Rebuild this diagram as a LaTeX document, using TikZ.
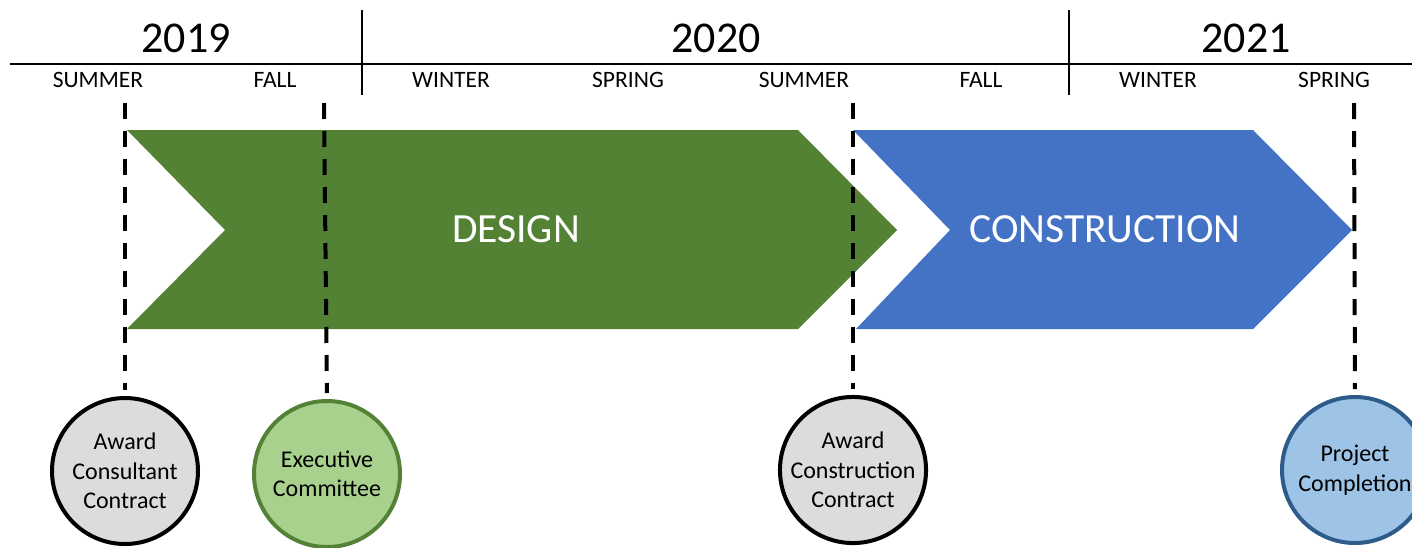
\documentclass[tikz,border=0pt]{standalone}
\usepackage{fontspec}
\setmainfont{Carlito}
\definecolor{dgreen}{HTML}{548235}
\definecolor{dblue}{HTML}{4472C4}
\definecolor{lgray}{HTML}{DCDCDC}
\definecolor{lgreen}{HTML}{A9D18E}
\definecolor{greenedge}{HTML}{538135}
\definecolor{lblue}{HTML}{9DC3E6}
\definecolor{blueedge}{HTML}{2E5C8A}
\tikzset{
  year/.style={font=\fontsize{44}{52}\selectfont, inner sep=0pt},
  season/.style={font=\fontsize{23.5}{28}\selectfont, inner sep=0pt},
  phase/.style={font=\fontsize{41.5}{50}\selectfont, text=white, inner sep=0pt},
  milestone/.style={circle, minimum size=146pt, inner sep=0pt, line width=4pt, align=center,
    font=\fontsize{24}{29.5}\selectfont},
  marker/.style={line width=4pt, dash pattern=on 16pt off 12pt},
  rule/.style={line width=1.5pt}
}
\begin{document}
\begin{tikzpicture}[x=1pt,y=-1pt]
\useasboundingbox (0,0) rectangle (1412,547);
% header rules
\coordinate (hl) at (10,64);
\coordinate (hr) at (1412,64);
\draw[rule] (hl) -- (hr);
\coordinate (d1t) at (362,10);
\coordinate (d1b) at (362,95);
\coordinate (d2t) at (1069,10);
\coordinate (d2b) at (1069,95);
\draw[rule] (d1t) -- (d1b);
\draw[rule] (d2t) -- (d2b);
% years
\node[year] (y2019) at (186,38) {2019};
\node[year] (y2020) at (716,38) {2020};
\node[year] (y2021) at (1246,38) {2021};
% seasons
\node[season] (s1) at (98,80) {SUMMER};
\node[season] (s2) at (275,80) {FALL};
\node[season] (s3) at (451,80) {WINTER};
\node[season] (s4) at (628,80) {SPRING};
\node[season] (s5) at (804,80) {SUMMER};
\node[season] (s6) at (981,80) {FALL};
\node[season] (s7) at (1158,80) {WINTER};
\node[season] (s8) at (1334,80) {SPRING};
% chevrons
\fill[dgreen] (127,130) -- (798,130) -- (897,230) -- (798,329) -- (127,329) -- (225,230) -- cycle;
\fill[dblue] (853,130) -- (1253,130) -- (1352,230) -- (1253,329) -- (856,329) -- (950,230) -- cycle;
\node[phase] (design) at (516,229) {DESIGN};
\node[phase] (construction) at (1105,229) {CONSTRUCTION};
% milestones
\node[milestone, draw=black, fill=lgray] (m1) at (125,471) {Award\\Consultant\\Contract};
\node[milestone, draw=greenedge, fill=lgreen] (m2) at (327,474) {Executive\\Committee};
\node[milestone, draw=black, fill=lgray] (m3) at (853,470) {Award\\Construction\\Contract};
\node[milestone, draw=blueedge, fill=lblue] (m4) at (1355,470) {Project\\Completion};
% markers
\coordinate (t1) at (125,103);
\coordinate (t2) at (324,103);
\coordinate (t3) at (853,103);
\coordinate (t4) at (1354,103);
\draw[marker, shorten >=6pt] (t1) -- (m1.north);
\draw[marker, shorten >=6pt] (t2) -- (m2.north);
\draw[marker, shorten >=6pt] (t3) -- (m3.north);
\draw[marker, shorten >=6pt] (t4) -- (m4.north);
\end{tikzpicture}
\end{document}
